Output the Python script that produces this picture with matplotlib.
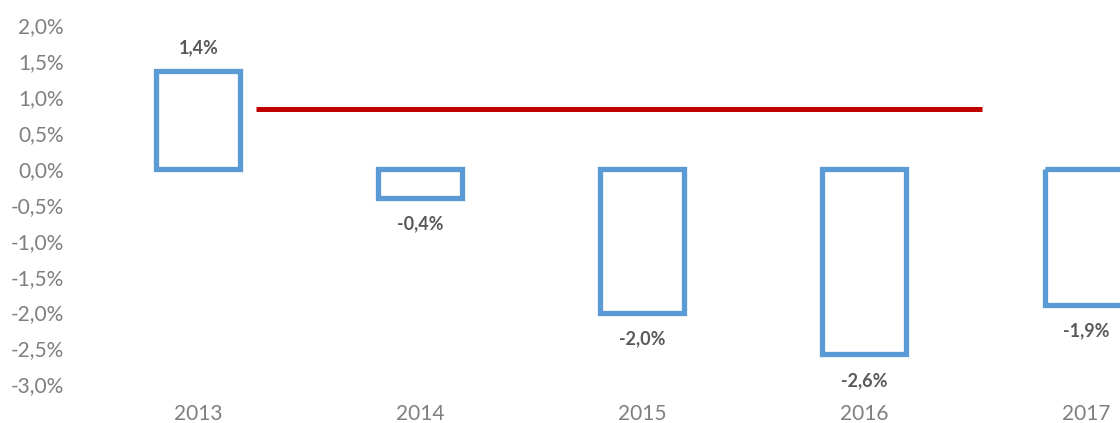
import numpy as np
import matplotlib
matplotlib.use('Agg')
import matplotlib.pyplot as plt
from matplotlib.ticker import FuncFormatter

plt.rcParams['font.family'] = ['Lato', 'DejaVu Sans']

# данные
years = ['2013', '2014', '2015', '2016', '2017']
values = [1.36, -0.40, -2.00, -2.58, -1.89]      # %
labels = ['1,4%', '-0,4%', '-2,0%', '-2,6%', '-1,9%']
avg_value = 0.84                                  # красная линия, %
avg_start = 0.26                                  # положение по категориям
avg_end = 3.53

BLUE = '#5B9BD5'
RED = '#C00000'
TICK_GRAY = '#7F7F7F'
LABEL_GRAY = '#595959'

fig = plt.figure(figsize=(11.2, 4.23), dpi=100)
ax = fig.add_axes([0.078, 0.0913, 0.922, 0.8487])

x = np.arange(len(years))
ax.bar(x, values, width=0.378, facecolor='none', edgecolor=BLUE, linewidth=3.8)

ax.hlines(avg_value, avg_start, avg_end, color=RED, linewidth=3.6)

for xi, v, lab in zip(x, values, labels):
    off = 17 if v > 0 else -19
    ax.annotate(lab, (xi, v), xytext=(0, off), textcoords='offset points',
                ha='center', va='center', fontsize=13, fontweight='bold',
                color=LABEL_GRAY)

ax.set_ylim(-3.0, 2.0)
ax.set_xlim(-0.5, 4.151)
ax.set_yticks(np.arange(-3.0, 2.01, 0.5))
ax.yaxis.set_major_formatter(FuncFormatter(lambda v, p: ('%.1f%%' % v).replace('.', ',')))
ax.set_xticks(x)
ax.set_xticklabels(years)

ax.tick_params(axis='both', length=0, labelsize=15, labelcolor=TICK_GRAY)
ax.tick_params(axis='y', pad=17)
ax.tick_params(axis='x', pad=14)
for s in ax.spines.values():
    s.set_visible(False)

fig.savefig('out.png', dpi=100)
